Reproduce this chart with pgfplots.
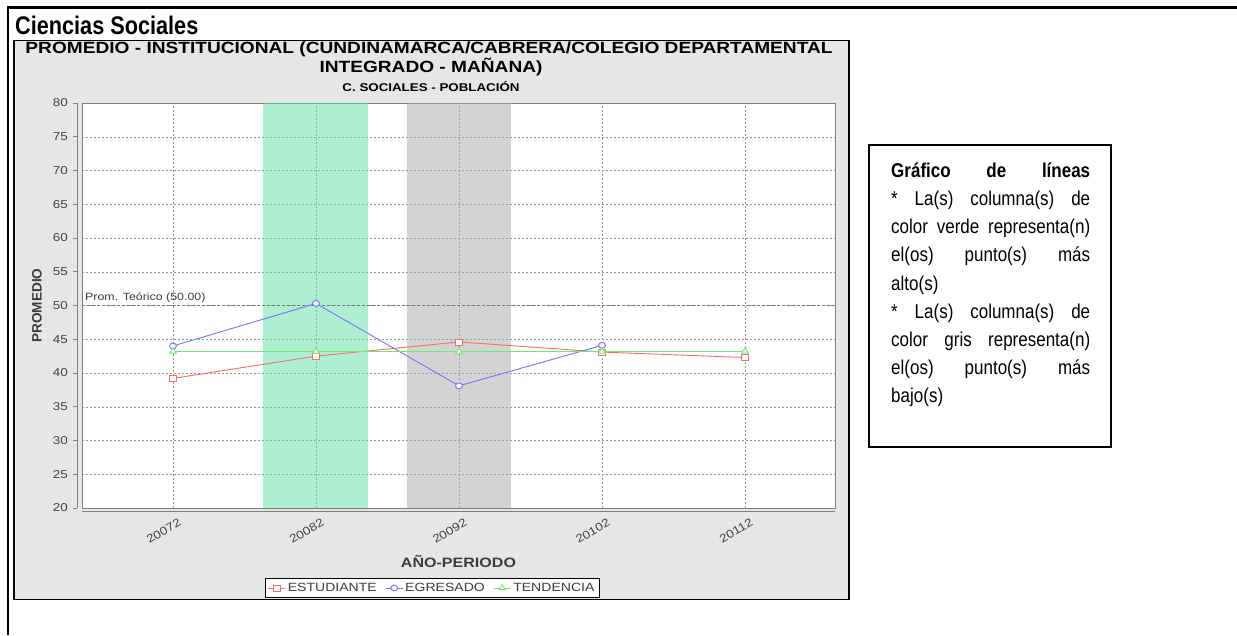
\documentclass[border=0pt]{standalone}
\usepackage{fontspec}
\setmainfont{Liberation Sans}
\newfontfamily\chartfont[FakeStretch=1.18]{Liberation Sans}
\newfontfamily\narrowfont[FakeStretch=0.85]{Liberation Sans}
\usepackage{pgfplots}
\pgfplotsset{compat=1.18}
\definecolor{chartbg}{RGB}{230,230,230}
\definecolor{bandgreen}{RGB}{97,225,165}
\definecolor{bandgray}{RGB}{169,169,169}
\definecolor{gridgray}{RGB}{150,150,150}
\definecolor{axisgray}{RGB}{128,128,128}
\definecolor{ticktext}{RGB}{68,68,68}
\definecolor{labeltext}{RGB}{60,60,60}
\definecolor{promgray}{RGB}{120,120,120}
\definecolor{cred}{RGB}{245,110,110}
\definecolor{cblue}{RGB}{115,115,250}
\definecolor{cgreen}{RGB}{110,235,110}
\begin{document}
\begin{tikzpicture}[x=1pt,y=1pt]
\path (0,0) rectangle (1237,635);
% page frame
\draw[overlay, line width=2.5pt] (7,627.5) -- (1237,627.5);
\draw[overlay, line width=2pt] (8,628.7) -- (8,0);
\node[anchor=base west, inner sep=0, font=\narrowfont\bfseries\fontsize{25.5}{28}\selectfont] at (15,600) {Ciencias Sociales};
% chart panel
\draw[line width=1.3pt, fill=chartbg] (14,35.5) rectangle (849,594.5);
\node[anchor=base, inner sep=0, font=\chartfont\bfseries\fontsize{16.2}{19}\selectfont] at (429,581) {PROMEDIO - INSTITUCIONAL (CUNDINAMARCA/CABRERA/COLEGIO DEPARTAMENTAL};
\node[anchor=base, inner sep=0, font=\chartfont\bfseries\fontsize{16.2}{19}\selectfont] at (431,562.3) {INTEGRADO - MAÑANA)};
\node[anchor=base, inner sep=0, font=\chartfont\bfseries\fontsize{11.3}{13}\selectfont] at (431,543.3) {C. SOCIALES - POBLACIÓN};
\begin{axis}[
  at={(82pt,127pt)}, anchor=south west,
  width=753pt, height=405pt, scale only axis,
  clip mode=individual,
  xmin=-0.636, xmax=4.629, ymin=20, ymax=80,
  xtick={0,1,2,3,4},
  xticklabels={20072,20082,20092,20102,20112},
  ytick={20,25,30,35,40,45,50,55,60,65,70,75,80},
  major tick length=0pt,
  grid=major,
  major grid style={draw=gridgray, line width=0.5pt, dash pattern=on 2pt off 2pt},
  axis line style={draw=axisgray, line width=0.6pt},
  axis background/.style={fill=white},
  tick label style={font=\chartfont\fontsize{11.4}{13}\selectfont, text=ticktext},
  /pgf/number format/assume math mode=true,
  yticklabel style={inner sep=0pt, xshift=-14pt, anchor=east},
  xticklabel style={inner sep=0pt, xshift=5pt, yshift=-10pt, rotate=30, anchor=north east},
  xlabel={AÑO-PERIODO}, ylabel={PROMEDIO},
  xlabel style={at={(axis description cs:0.5,-0.1309)}, anchor=center, font=\chartfont\bfseries\fontsize{13.6}{16}\selectfont, text=labeltext},
  ylabel style={at={(axis description cs:-0.0598,0.5)}, anchor=center, font=\bfseries\fontsize{13.6}{16}\selectfont, text=labeltext},
  legend columns=3,
  legend cell align=left,
  legend style={at={(0.465,-0.1975)}, anchor=center, draw=black, line width=0.8pt, fill=white,
    font=\chartfont\fontsize{11.9}{13}\selectfont, text=labeltext, inner sep=2.5pt,
    /tikz/every even column/.append style={column sep=6.5pt}},
]
\addplot[draw=none, fill=bandgreen, fill opacity=0.5, forget plot] coordinates {(0.633,20) (1.367,20) (1.367,80) (0.633,80)};
\addplot[draw=none, fill=bandgray, fill opacity=0.5, forget plot] coordinates {(1.633,20) (2.367,20) (2.367,80) (1.633,80)};
\addplot[forget plot, draw=promgray, dash pattern=on 3pt off 2pt, line width=0.6pt] coordinates {(-0.636,50) (4.629,50)};
\addplot[color=cred, line width=0.9pt, mark=square*, mark size=3pt, mark options={fill=white, xscale=1.2, solid}] coordinates {(0,39.2) (1,42.5) (2,44.6) (3,43.1) (4,42.3)};
\addlegendentry{ESTUDIANTE}
\addplot[color=cblue, line width=0.9pt, mark=*, mark size=2.9pt, mark options={fill=white, xscale=1.2, solid}] coordinates {(0,44.0) (1,50.3) (2,38.1) (3,44.1)};
\addlegendentry{EGRESADO}
\addplot[color=cgreen, line width=0.9pt, mark=triangle*, mark size=3.3pt, mark options={fill=white, xscale=1.2, solid}] coordinates {(0,43.2) (1,43.2) (2,43.2) (3,43.2) (4,43.2)};
\addlegendentry{TENDENCIA}
\node[anchor=base west, inner sep=0, font=\chartfont\fontsize{10.5}{12}\selectfont, text=labeltext] at ([xshift=3pt, yshift=5pt]axis cs:-0.636,50) {Prom. Teórico (50.00)};
\draw[axisgray, line width=0.7pt] ([xshift=-5pt]rel axis cs:0,0) -- ([xshift=-5pt]rel axis cs:0,1);
\draw[axisgray, line width=0.7pt] ([yshift=-3pt]rel axis cs:0,0) -- ([yshift=-3pt]rel axis cs:1,0);
\pgfplotsinvokeforeach{20,25,30,35,40,45,50,55,60,65,70,75,80}{
  \draw[axisgray, line width=0.6pt] ([xshift=-5pt]axis cs:-0.636,#1) -- ([xshift=-9pt]axis cs:-0.636,#1);
}
\end{axis}
% text box
\draw[line width=1.8pt] (869,188) rectangle (1111,490);
\node[anchor=base west, inner sep=0] at (891,457.7) {\begin{minipage}[t]{199pt}\narrowfont\fontsize{20}{28.2}\selectfont
\makebox[199pt][s]{\bfseries Gráfico de líneas}\\
\makebox[199pt][s]{* La(s) columna(s) de}\\
\makebox[199pt][s]{color verde representa(n)}\\
\makebox[199pt][s]{el(os) punto(s) más}\\
alto(s)\\
\makebox[199pt][s]{* La(s) columna(s) de}\\
\makebox[199pt][s]{color gris representa(n)}\\
\makebox[199pt][s]{el(os) punto(s) más}\\
bajo(s)
\end{minipage}};
\end{tikzpicture}
\end{document}
